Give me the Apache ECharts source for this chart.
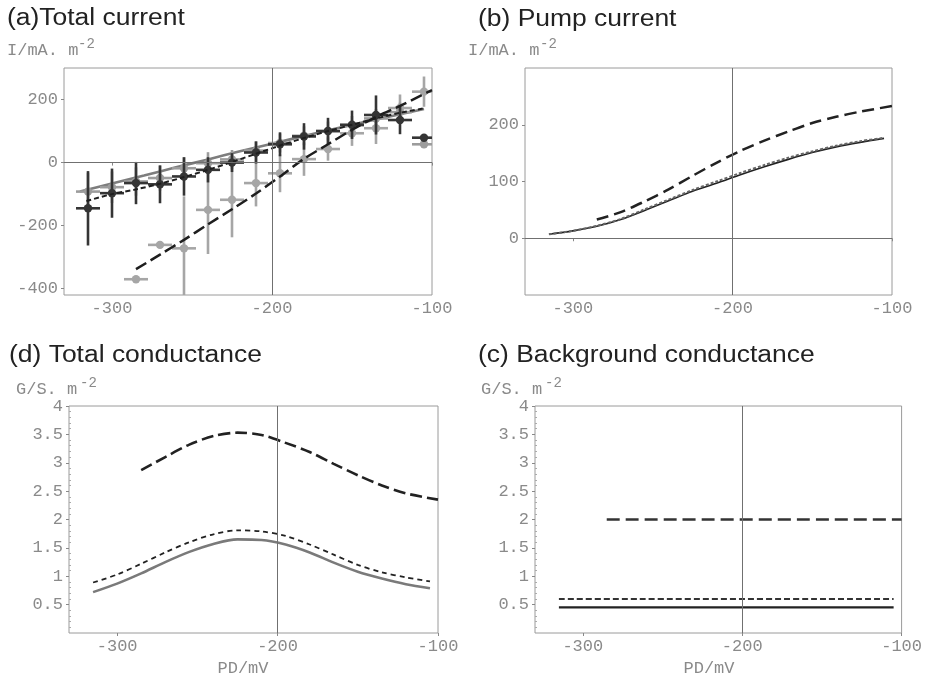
<!DOCTYPE html>
<html>
<head>
<meta charset="utf-8">
<script src="https://cdn.jsdelivr.net/npm/echarts@6/dist/echarts.min.js"></script>
<style>
  html, body { margin: 0; padding: 0; background: #fff; }
  #chart { width: 925px; height: 680px; }
</style>
</head>
<body>
<div id="chart"></div>
<script>
// (a) total current - measured points, x error is the same for every point
const aPointX = [-315, -300, -285, -270, -255, -240, -225, -210, -195, -180, -165, -150, -135, -120, -105]
const aDarkY = [-145, -97, -65, -69, -44, -23, 0, 32, 58, 83, 100, 120, 151, 135, 79]
const aDarkErr = [118, 78, 67, 60, 61, 40, 30, 35, 38, 42, 42, 45, 62, 45, 8]
const aGrayY = [-92, -78, -60, -49, -18, -2, 10, 38, 62, 85, 100, 118, 140, 160, 58]
const aGrayErr = [60, 50, 45, 40, 35, 35, 30, 30, 30, 30, 30, 30, 30, 30, 10]
const aLightX = [-285, -270, -255, -240, -225, -210, -195, -180, -165, -150, -135, -120, -105]
const aLightY = [-370, -261, -272, -150, -118, -65, -34, 11, 43, 93, 109, 173, 225]
const aLightErr = [4, 4, 165, 140, 119, 74, 60, 53, 37, 40, 50, 43, 48]
const aXErr = 7.5

// (a) fitted curves
const aSolidX = [-320, -300, -280, -260, -240, -220, -200, -180, -160, -140, -120, -105]
const aSolidY = [-92, -66, -41, -15, 10, 36, 60, 84, 108, 131, 153, 170]
const aDotX = [-316, -300, -285, -270, -255, -240, -225, -210, -195, -180, -165, -150, -135, -120, -105]
const aDotY = [-122, -100, -85, -67, -46, -23, 2, 28, 54, 78, 100, 120, 140, 158, 172]
const aDashX = [-285, -270, -255, -240, -225, -210, -195, -180, -165, -150, -135, -120, -100]
const aDashY = [-338, -292, -245, -196, -148, -98, -44, 12, 58, 104, 145, 180, 230]

// (b) pump current
const bX = [-315, -300, -285, -270, -255, -240, -225, -210, -195, -180, -165, -150, -135, -120, -105]
const bSolidY = [7, 13, 21, 33, 49, 66, 83, 97, 112, 126, 139, 151, 161, 169, 176]
const bDotY = [7, 13, 22, 34, 51, 68, 85, 100, 115, 129, 142, 153, 163, 171, 177]
const bDashX = [-285, -270, -255, -240, -225, -210, -195, -180, -165, -150, -135, -120, -100]
const bDashY = [33, 46, 65, 86, 110, 133, 154, 172, 188, 203, 214, 223, 233]

// (d) total conductance
const dX = [-315, -300, -285, -270, -255, -240, -225, -210, -195, -180, -165, -150, -135, -120, -105]
const dSolidY = [0.72, 0.87, 1.05, 1.25, 1.43, 1.57, 1.65, 1.64, 1.56, 1.42, 1.24, 1.08, 0.96, 0.86, 0.79]
const dDotY = [0.89, 1.03, 1.22, 1.42, 1.60, 1.74, 1.81, 1.79, 1.71, 1.56, 1.38, 1.20, 1.07, 0.98, 0.91]
const dDashX = [-285, -270, -255, -240, -225, -210, -195, -180, -165, -150, -135, -120, -100]
const dDashY = [2.87, 3.10, 3.32, 3.47, 3.53, 3.49, 3.35, 3.19, 2.98, 2.78, 2.60, 2.46, 2.35]

// (c) background conductance
const cX = [-315, -105]
const cSolidY = [0.45, 0.45]
const cDotY = [0.6, 0.6]
const cDashX = [-285, -100]
const cDashY = [2.0, 2.0]

// axis ticks
const xTicks = [-300, -200, -100]
const aYTicks = [-400, -200, 0, 200]
const bYTicks = [0, 100, 200]
const gYTicks = [0.5, 1, 1.5, 2, 2.5, 3, 3.5, 4]
const gMinorTicks = [0.1, 0.2, 0.3, 0.4, 0.6, 0.7, 0.8, 0.9, 1.1, 1.2, 1.3, 1.4, 1.6, 1.7, 1.8, 1.9,
    2.1, 2.2, 2.3, 2.4, 2.6, 2.7, 2.8, 2.9, 3.1, 3.2, 3.3, 3.4, 3.6, 3.7, 3.8, 3.9]

const titles = ['(a)Total current', '(b) Pump current', '(d) Total conductance', '(c) Background conductance']

const MONO = '"Liberation Mono", "Courier New", monospace'
const SANS = '"Liberation Sans", Arial, sans-serif'
const LABEL = '#8a8a8a'

const pairs = (xs, ys) => xs.map((x, i) => [x, ys[i]])

const errRender = (color) => (params, api) => {
    const x = api.value(0), y = api.value(1), e = api.value(2)
    const c = api.coord([x, y])
    const top = api.coord([x, y + e])
    const bot = api.coord([x, y - e])
    const l = api.coord([x - aXErr, y])
    const r = api.coord([x + aXErr, y])
    const st = { stroke: color, lineWidth: 2.6 }
    return {
        type: 'group',
        children: [
            { type: 'line', shape: { x1: c[0], y1: top[1], x2: c[0], y2: bot[1] }, style: st },
            { type: 'line', shape: { x1: l[0], y1: c[1], x2: r[0], y2: c[1] }, style: st },
            { type: 'circle', shape: { cx: c[0], cy: c[1], r: 4.2 }, style: { fill: color } }
        ]
    }
}

const errSeries = (xs, ys, es, color) => ({
    type: 'custom',
    xAxisIndex: 0,
    yAxisIndex: 0,
    clip: true,
    renderItem: errRender(color),
    data: xs.map((x, i) => [x, ys[i], es[i]])
})

const lineSeries = (idx, xs, ys, color, width, dash) => ({
    type: 'line',
    xAxisIndex: idx,
    yAxisIndex: idx,
    data: pairs(xs, ys),
    smooth: 0.3,
    symbol: 'none',
    z: 3,
    lineStyle: { color: color, width: width, type: dash || 'solid' }
})

const refLines = (withZero) => ({
    silent: true,
    symbol: 'none',
    label: { show: false },
    lineStyle: { color: '#707070', width: 1, type: 'solid' },
    data: withZero ? [{ xAxis: -200 }, { yAxis: 0 }] : [{ xAxis: -200 }]
})

const xAxisOf = (idx) => ({
    type: 'value',
    gridIndex: idx,
    min: -330,
    max: -100,
    axisLine: { show: false },
    splitLine: { show: false },
    axisTick: { show: true, customValues: xTicks, length: 3, lineStyle: { color: '#888' } },
    axisLabel: { customValues: xTicks, color: LABEL, fontFamily: MONO, fontSize: 17, margin: 5 }
})

const yAxisOf = (idx, min, max, ticks) => ({
    type: 'value',
    gridIndex: idx,
    min: min,
    max: max,
    axisLine: { show: false },
    splitLine: { show: false },
    axisTick: { show: true, customValues: ticks, length: 3, lineStyle: { color: '#888' } },
    axisLabel: { customValues: ticks, color: LABEL, fontFamily: MONO, fontSize: 17, margin: 6 }
})

// small inner ticks along the conductance axes
const minorAxisOf = (idx) => ({
    type: 'value',
    gridIndex: idx,
    position: 'left',
    min: 0,
    max: 4,
    axisLine: { show: false },
    splitLine: { show: false },
    axisLabel: { show: false },
    axisTick: { show: true, inside: true, customValues: gMinorTicks, length: 2, lineStyle: { color: '#aaa' } }
})

const gridBox = (left, top, width) => ({
    left: left, top: top, width: width, height: 227,
    show: true, borderColor: '#9a9a9a', borderWidth: 1
})

const textAt = (x, y, text, font, fill, align, sx) => ({
    type: 'text', x: x, y: y, silent: true, scaleX: sx || 1,
    style: { text: text, font: font, fill: fill, align: align || 'left', verticalAlign: 'middle' }
})

const chart = echarts.init(document.getElementById('chart'))

const a0 = lineSeries(0, aSolidX, aSolidY, '#7d7d7d', 2.6)
a0.markLine = refLines(true)
a0.z = 1
const b0 = lineSeries(1, bX, bSolidY, '#222', 1.6)
b0.markLine = refLines(true)
const d0 = lineSeries(2, dX, dSolidY, '#7a7a7a', 2.6)
d0.markLine = refLines(false)
const c0 = lineSeries(3, cX, cSolidY, '#222', 2.2)
c0.markLine = refLines(false)

const TITLE = '23px ' + SANS

const option = {
    animation: false,
    backgroundColor: '#fff',
    grid: [gridBox(64, 68, 368), gridBox(525, 68, 367), gridBox(69, 406, 369), gridBox(535, 406, 368)],
    xAxis: [xAxisOf(0), xAxisOf(1), xAxisOf(2), xAxisOf(3)],
    yAxis: [
        yAxisOf(0, -420, 300, aYTicks),
        yAxisOf(1, -100, 300, bYTicks),
        yAxisOf(2, 0, 4, gYTicks),
        yAxisOf(3, 0, 4, gYTicks),
        minorAxisOf(2),
        minorAxisOf(3)
    ],
    series: [
        a0,
        errSeries(aLightX, aLightY, aLightErr, '#a6a6a6'),
        errSeries(aPointX, aGrayY, aGrayErr, '#9c9c9c'),
        errSeries(aPointX, aDarkY, aDarkErr, '#353535'),
        lineSeries(0, aDotX, aDotY, '#1e1e1e', 2, [5, 3]),
        lineSeries(0, aDashX, aDashY, '#1e1e1e', 2.5, [12, 5]),

        b0,
        lineSeries(1, bX, bDotY, '#666', 2, [3, 2]),
        lineSeries(1, bDashX, bDashY, '#222', 2.5, [12, 6]),

        d0,
        lineSeries(2, dX, dDotY, '#222', 1.8, [5, 4]),
        lineSeries(2, dDashX, dDashY, '#222', 2.6, [12, 5]),

        c0,
        lineSeries(3, cX, cDotY, '#333', 2, [6, 3]),
        lineSeries(3, cDashX, cDashY, '#333', 2.6, [13, 6])
    ],
    graphic: [
        textAt(7, 19, titles[0], TITLE, '#222', 'left', 1.15),
        textAt(478, 20, titles[1], TITLE, '#222', 'left', 1.15),
        textAt(9, 356, titles[2], TITLE, '#222', 'left', 1.15),
        textAt(478, 356, titles[3], TITLE, '#222', 'left', 1.15),

        textAt(7, 50, 'I/mA. m', '17px ' + MONO, LABEL),
        textAt(78, 44, '-2', '14px ' + MONO, LABEL),
        textAt(468, 50, 'I/mA. m', '17px ' + MONO, LABEL),
        textAt(540, 44, '-2', '14px ' + MONO, LABEL),
        textAt(16, 389, 'G/S. m', '17px ' + MONO, LABEL),
        textAt(80, 383, '-2', '14px ' + MONO, LABEL),
        textAt(481, 389, 'G/S. m', '17px ' + MONO, LABEL),
        textAt(545, 383, '-2', '14px ' + MONO, LABEL),

        textAt(243, 668, 'PD/mV', '17px ' + MONO, LABEL, 'center'),
        textAt(709, 668, 'PD/mV', '17px ' + MONO, LABEL, 'center')
    ]
}

chart.setOption(option)
</script>
</body>
</html>
